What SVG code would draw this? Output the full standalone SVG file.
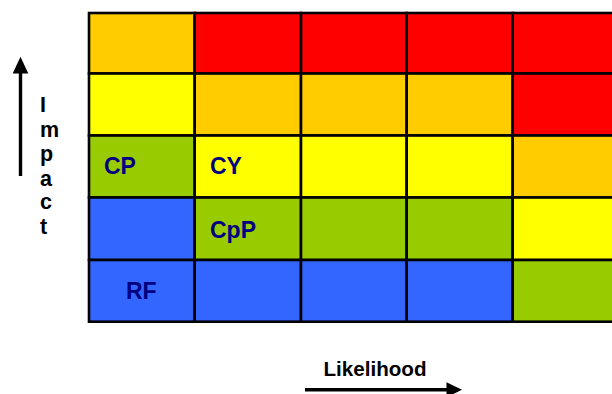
<svg xmlns="http://www.w3.org/2000/svg" width="612" height="394" viewBox="0 0 612 394">
<defs>
<style>
.c{stroke:#000;stroke-width:2.6}
.r{fill:#FF0000}.o{fill:#FFCC00}.y{fill:#FFFF00}.g{fill:#99CC00}.b{fill:#3366FF}
.lbl{font-family:"Liberation Sans",Arial,sans-serif;font-weight:bold;font-size:23px;fill:#000080}
.ax{font-family:"Liberation Sans",Arial,sans-serif;font-weight:bold;fill:#000}
.arr{stroke:#000;stroke-width:3.4;fill:none}
</style>
</defs>
<rect width="612" height="394" fill="#fff"/>
<g id="grid">
<g id="r1c1"><rect class="c o" x="89" y="13" width="105.7" height="60.5"/></g>
<g id="r1c2"><rect class="c r" x="194.7" y="13" width="106.3" height="60.5"/></g>
<g id="r1c3"><rect class="c r" x="301" y="13" width="105.7" height="60.5"/></g>
<g id="r1c4"><rect class="c r" x="406.7" y="13" width="106" height="60.5"/></g>
<g id="r1c5"><rect class="c r" x="512.7" y="13" width="106" height="60.5"/></g>

<g id="r2c1"><rect class="c y" x="89" y="73.5" width="105.7" height="62"/></g>
<g id="r2c2"><rect class="c o" x="194.7" y="73.5" width="106.3" height="62"/></g>
<g id="r2c3"><rect class="c o" x="301" y="73.5" width="105.7" height="62"/></g>
<g id="r2c4"><rect class="c o" x="406.7" y="73.5" width="106" height="62"/></g>
<g id="r2c5"><rect class="c r" x="512.7" y="73.5" width="106" height="62"/></g>

<g id="CP"><rect class="c g" x="89" y="135.5" width="105.7" height="62"/><text class="lbl" x="104" y="174.3">CP</text></g>
<g id="CY"><rect class="c y" x="194.7" y="135.5" width="106.3" height="62"/><text class="lbl" x="210" y="174.3">CY</text></g>
<g id="r3c3"><rect class="c y" x="301" y="135.5" width="105.7" height="62"/></g>
<g id="r3c4"><rect class="c y" x="406.7" y="135.5" width="106" height="62"/></g>
<g id="r3c5"><rect class="c o" x="512.7" y="135.5" width="106" height="62"/></g>

<g id="r4c1"><rect class="c b" x="89" y="197.5" width="105.7" height="62.5"/></g>
<g id="CpP"><rect class="c g" x="194.7" y="197.5" width="106.3" height="62.5"/><text class="lbl" x="210" y="237.5">CpP</text></g>
<g id="r4c3"><rect class="c g" x="301" y="197.5" width="105.7" height="62.5"/></g>
<g id="r4c4"><rect class="c g" x="406.7" y="197.5" width="106" height="62.5"/></g>
<g id="r4c5"><rect class="c y" x="512.7" y="197.5" width="106" height="62.5"/></g>

<g id="RF"><rect class="c b" x="89" y="260" width="105.7" height="61.7"/><text class="lbl" x="126" y="299.3">RF</text></g>
<g id="r5c2"><rect class="c b" x="194.7" y="260" width="106.3" height="61.7"/></g>
<g id="r5c3"><rect class="c b" x="301" y="260" width="105.7" height="61.7"/></g>
<g id="r5c4"><rect class="c b" x="406.7" y="260" width="106" height="61.7"/></g>
<g id="r5c5"><rect class="c g" x="512.7" y="260" width="106" height="61.7"/></g>
</g>
<g id="impact-label" class="ax" font-size="21.5">
<text x="40" y="112.3">I</text>
<text x="40" y="136.7">m</text>
<text x="40" y="161">p</text>
<text x="40" y="185.8">a</text>
<text x="40" y="209">c</text>
<text x="40" y="234.3">t</text>
</g>
<g id="likelihood-label"><text class="ax" font-size="20.6" x="323.5" y="376">Likelihood</text></g>
<g id="connectors">
<line class="arr" x1="20.5" y1="176" x2="20.5" y2="71"/>
<polygon points="20.5,56.7 12.7,73.5 28.3,73.5" fill="#000"/>
<line class="arr" x1="305" y1="389.8" x2="448" y2="389.8"/>
<polygon points="462,389.8 446.5,382.3 446.5,397.3" fill="#000"/>
</g>
</svg>
